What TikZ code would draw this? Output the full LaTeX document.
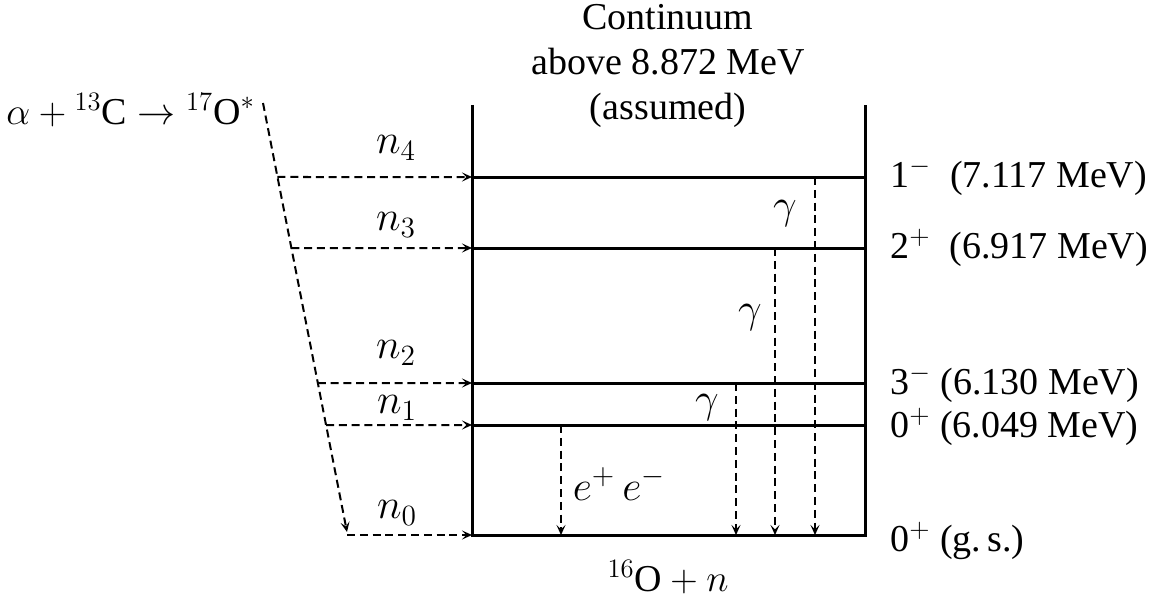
\RequirePackage{fix-cm}
\documentclass[tikz,border=0pt]{standalone}
\usepackage{amsmath}
\usepackage{fontspec}
\setmainfont{Liberation Serif}
\usepackage{tikz}
\usetikzlibrary{positioning,arrows.meta,calc}

\begin{document}
\begin{tikzpicture}[x=0.5pt, y=-0.5pt, >={Stealth[length=5pt,width=4.5pt,inset=2.2pt]},
  level/.style={line width=1.5pt},
  trans/.style={->, line width=1pt, dash pattern=on 4pt off 2.4pt},
  every node/.style={font=\fontsize{19}{22.5}\selectfont, inner sep=0pt},
  mathlbl/.style={font=\fontsize{21}{24}\selectfont}]

\useasboundingbox (0,0) rectangle (1155,599);

% Levels of 16O
\foreach \k/\y in {4/177, 3/248, 2/383, 1/425, 0/535} {
    \coordinate (L\k) at (472,\y);
    \coordinate (R\k) at (865,\y);
}
\draw[level] (472,105) -- (L0) -- (R0) -- (865,105);
\foreach \k in {1,...,4} {
    \draw[level] (L\k) -- (R\k);
}

% Level labels
\node[anchor=west] (s4) at (890,177) {1$^{-}$~ (7.117 MeV)};
\node[anchor=west] (s3) at (890,248) {2$^{+}$~ (6.917 MeV)};
\node[anchor=west] (s2) at (890,384) {3$^{-}$ (6.130 MeV)};
\node[anchor=west] (s1) at (890,427) {0$^{+}$ (6.049 MeV)};
\node[anchor=west] (s0) at (890,541) {0$^{+}$ (g.\,s.)};

% Continuum and final state
\node[align=center] (cont) at (668,66) {Continuum\\above 8.872 MeV\\(assumed)};
\node (prod) at (668,577) {${}^{16}\text{O} + n$};

% Reaction and neutron feeding
\node[anchor=west] (reac) at (6,110) {$\alpha + {}^{13}\text{C} \rightarrow {}^{17}\text{O}^{*}$};
\coordinate (top) at (263,103);
\coordinate (bot) at (347,532);
\draw[trans] (top) -- (bot);
\foreach \k in {1,...,4} {
    \draw[trans] (intersection of top--bot and L\k--R\k) -- (L\k);
}
\draw[trans] (bot |- L0) -- (L0);

\node[mathlbl] (n4) at (396,148) {$n_4$};
\node[mathlbl] (n3) at (396,225) {$n_3$};
\node[mathlbl] (n2) at (396,353) {$n_2$};
\node[mathlbl] (n1) at (397,408) {$n_1$};
\node[mathlbl] (n0) at (397,513) {$n_0$};

% Decays to the ground state
\coordinate (g4) at (815,177);
\coordinate (g3) at (775,248);
\coordinate (g2) at (736,383);
\coordinate (g1) at (561,425);
\foreach \k in {1,...,4} {
    \draw[trans] (g\k) -- (g\k |- L0);
}
\node[mathlbl] (y4) at (785,214) {$\gamma$};
\node[mathlbl] (y3) at (750,318) {$\gamma$};
\node[mathlbl] (y2) at (707,408) {$\gamma$};
\node[mathlbl] (ee) at (619,484) {$e^{+}\,e^{-}$};

\end{tikzpicture}
\end{document}
